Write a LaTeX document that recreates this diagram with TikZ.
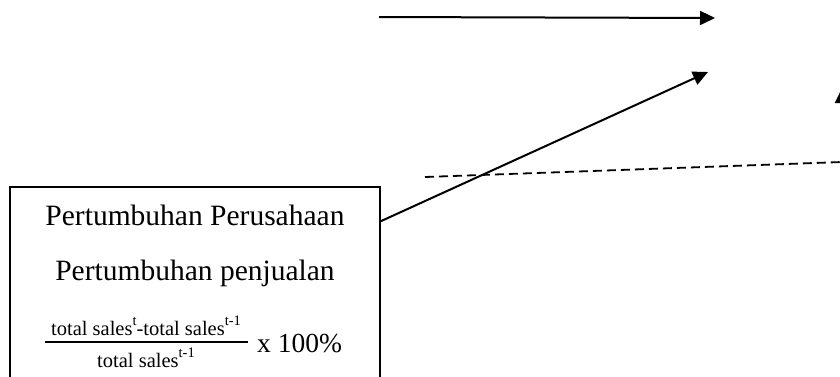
\documentclass[tikz,border=0pt]{standalone}
\usepackage{fontspec}
\setmainfont{Liberation Serif}
\usetikzlibrary{arrows.meta,calc}
\newcommand{\supx}[1]{\raisebox{9.5pt}{\fontsize{14.5}{15}\selectfont #1}}
\begin{document}
\begin{tikzpicture}[x=1pt,y=-1pt,
  conn/.style={line width=2pt,-{Triangle[length=15pt,width=14pt]}},
  dashline/.style={line width=1.8pt,dash pattern=on 9pt off 5pt},
  bigtext/.style={anchor=base,inner sep=0,font=\fontsize{29.5}{32}\selectfont},
  pcttext/.style={anchor=base west,inner sep=0,font=\fontsize{27.5}{30}\selectfont},
  fractext/.style={anchor=base,inner sep=0,font=\fontsize{20.5}{24}\selectfont}]
\useasboundingbox (0,0) rectangle (840,376);
\clip (0,0) rectangle (840,376);
\node[draw,line width=1.6pt,minimum width=370pt,minimum height=210pt,inner sep=0] (box) at (195,292) {};
\node[bigtext] (t1) at (195,225) {Pertumbuhan Perusahaan};
\node[bigtext] (t2) at (195,280) {Pertumbuhan penjualan};
\node[fractext] (num) at (146,335) {total sales\supx{t}-total sales\supx{t-1}};
\node[fractext] (den) at (146,367) {total sales\supx{t-1}};
\draw[line width=1.8pt] (45,342) -- (248,342);
\node[pcttext] (pct) at (257,352) {x 100\%};
\coordinate (a1s) at (379,17);
\coordinate (a1e) at (715,18);
\draw[conn] (a1s) -- (a1e);
\coordinate (a2e) at (708,72);
\draw[conn] ($(box.north east)+(0,35)$) -- (a2e);
\coordinate (d1) at (425,177);
\coordinate (d2) at (842,162);
\draw[dashline] (d1) -- (d2);
\coordinate (v1) at (842,200);
\coordinate (v2) at (842,88);
\draw[conn] (v1) -- (v2);
\end{tikzpicture}
\end{document}
